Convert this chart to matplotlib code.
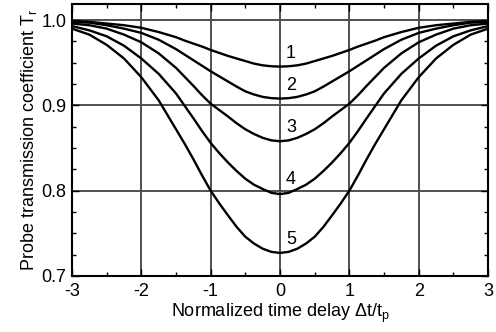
import numpy as np
import matplotlib
matplotlib.use("Agg")
import matplotlib.pyplot as plt
from matplotlib.ticker import MultipleLocator, FormatStrFormatter

plt.rcParams['font.family'] = ['Liberation Sans', 'DejaVu Sans']
plt.rcParams['mathtext.default'] = 'regular'
plt.rcParams['axes.unicode_minus'] = False

# normalized delay dt/tp (denser sampling around the dip)
delay = [-3.0, -2.75, -2.5, -2.25, -2.0, -1.75,
         -1.5, -1.375, -1.25, -1.125, -1.0, -0.875, -0.75, -0.625, -0.5, -0.375, -0.25, -0.125,
         0.0,
         0.125, 0.25, 0.375, 0.5, 0.625, 0.75, 0.875, 1.0, 1.125, 1.25, 1.375, 1.5,
         1.75, 2.0, 2.25, 2.5, 2.75, 3.0]

# probe transmission for the five curves
T1 = [0.999, 0.998, 0.996, 0.994, 0.991, 0.986,
      0.980, 0.976, 0.9725, 0.969, 0.965, 0.9615, 0.958, 0.955, 0.952, 0.949, 0.947, 0.9459,
      0.9455,
      0.9459, 0.947, 0.949, 0.952, 0.955, 0.958, 0.9615, 0.965, 0.969, 0.9725, 0.976, 0.980,
      0.986, 0.991, 0.994, 0.996, 0.998, 0.999]
T2 = [0.998, 0.997, 0.994, 0.990, 0.985, 0.977,
      0.966, 0.9595, 0.953, 0.9465, 0.940, 0.934, 0.928, 0.922, 0.9165, 0.9128, 0.910, 0.9085,
      0.908,
      0.9085, 0.910, 0.9128, 0.9165, 0.922, 0.928, 0.934, 0.940, 0.9465, 0.953, 0.9595, 0.966,
      0.977, 0.985, 0.990, 0.994, 0.997, 0.998]
T3 = [0.996, 0.994, 0.990, 0.983, 0.974, 0.961,
      0.944, 0.9335, 0.923, 0.912, 0.902, 0.8945, 0.887, 0.879, 0.872, 0.8665, 0.862, 0.859,
      0.858,
      0.859, 0.862, 0.8665, 0.872, 0.879, 0.887, 0.8945, 0.902, 0.912, 0.923, 0.9335, 0.944,
      0.961, 0.974, 0.983, 0.990, 0.994, 0.996]
T4 = [0.993, 0.988, 0.981, 0.970, 0.955, 0.937,
      0.914, 0.8995, 0.885, 0.870, 0.856, 0.844, 0.833, 0.823, 0.814, 0.807, 0.802, 0.7975,
      0.796,
      0.7975, 0.802, 0.807, 0.814, 0.823, 0.833, 0.844, 0.856, 0.870, 0.885, 0.8995, 0.914,
      0.937, 0.955, 0.970, 0.981, 0.988, 0.993]
T5 = [0.990, 0.983, 0.971, 0.955, 0.933, 0.906,
      0.872, 0.855, 0.837, 0.818, 0.800, 0.785, 0.771, 0.7575, 0.746, 0.738, 0.732, 0.7283,
      0.727,
      0.7283, 0.732, 0.738, 0.746, 0.7575, 0.771, 0.785, 0.800, 0.818, 0.837, 0.855, 0.872,
      0.906, 0.933, 0.955, 0.971, 0.983, 0.990]

curve_names = ['1', '2', '3', '4', '5']
# where the curve numbers sit
name_x = [0.16, 0.16, 0.16, 0.16, 0.16]
name_y = [0.961, 0.923, 0.874, 0.8135, 0.743]

fig = plt.figure(figsize=(4.96, 3.32), dpi=100)
ax = fig.add_axes([0.1452, 0.1687, 0.8387, 0.819])

ax.grid(True, which='major', color='#505050', linewidth=1.4)
ax.set_axisbelow(True)

for T in [T1, T2, T3, T4, T5]:
    ax.plot(delay, T, color='black', linewidth=1.7, solid_joinstyle='round')

for name, nx, ny in zip(curve_names, name_x, name_y):
    ax.text(nx, ny, name, fontsize=13, ha='center', va='center')

ax.set_xlim(-3, 3)
ax.set_ylim(0.7, 1.0188)
ax.xaxis.set_major_locator(MultipleLocator(1))
ax.xaxis.set_minor_locator(MultipleLocator(0.5))
ax.yaxis.set_major_locator(MultipleLocator(0.1))
ax.yaxis.set_minor_locator(MultipleLocator(0.025))
ax.yaxis.set_major_formatter(FormatStrFormatter('%.1f'))

ax.tick_params(which='both', direction='in', top=True, right=True, labelsize=13, width=1.0)
ax.tick_params(which='major', length=5)
ax.tick_params(which='minor', length=3)
ax.tick_params(axis='x', pad=5)
ax.tick_params(axis='y', pad=4)
for s in ax.spines.values():
    s.set_linewidth(1.5)

ax.set_xlabel('Normalized time delay \u0394t/t$_p$', fontsize=13, labelpad=1)
ax.set_ylabel('Probe transmission coefficient T$_r$', fontsize=13, labelpad=2)

plt.savefig('out.png', dpi=100)
